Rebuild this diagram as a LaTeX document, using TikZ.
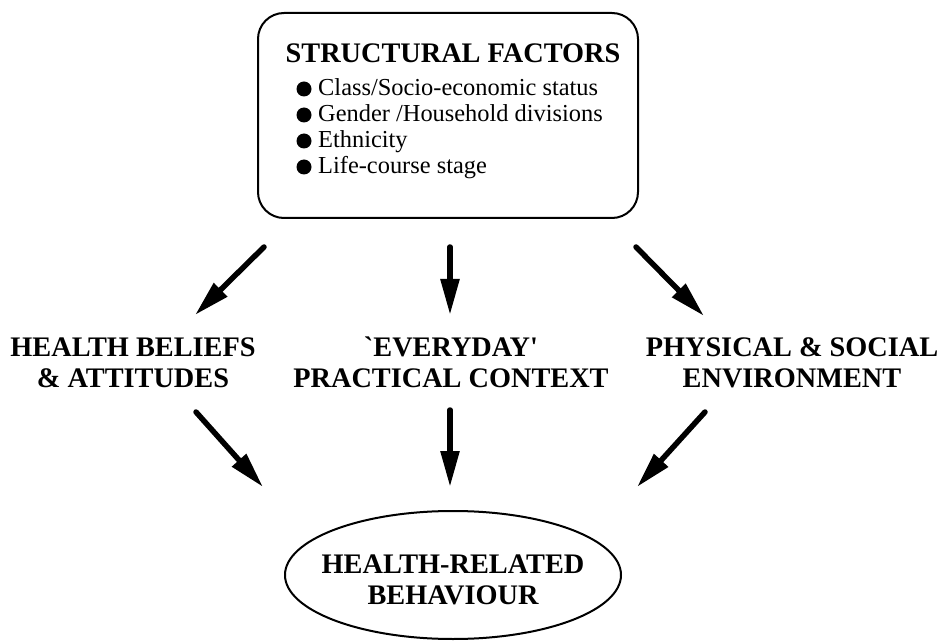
\documentclass[tikz,border=0pt]{standalone}
\usepackage{fontspec}
\setmainfont{Liberation Serif}
\newfontfamily\rawserif{Liberation Serif}[Ligatures=Common]
\usetikzlibrary{arrows.meta,shapes.geometric}

\begin{document}
\begin{tikzpicture}[x=1pt,y=-1pt,
  heading/.style={font=\fontsize{28.3}{31}\selectfont\bfseries, align=center, inner sep=0pt},
  itemtext/.style={font=\fontsize{24.4}{26}\selectfont, anchor=base west, inner sep=0pt},
  dot/.style={circle, fill=black, minimum size=15pt, inner sep=0pt},
  flow/.style={line width=5.5pt, line cap=round,
    -{Triangle[length=36pt,width=18pt]}},
]
\useasboundingbox (0,0) rectangle (940,644);

% structural factors box
\node[draw, line width=2pt, rounded corners=26pt, minimum width=380pt,
      minimum height=205pt, inner sep=0pt] (box) at (448,115.5) {};
\node[heading, anchor=base] (title) at (453,63) {STRUCTURAL FACTORS};
\foreach \i/\t/\y in {1/Class\slash Socio-economic status/96,
                      2/Gender \slash Household divisions/122,
                      3/Ethnicity/148,
                      4/Life-course stage/174}{
  \node[dot] (d\i) at (304,\y-7) {};
  \node[itemtext] (it\i) at (318,\y) {\t};
}

% middle row of factors (base = baseline of the second line)
\node[heading, anchor=base] (beliefs) at (133,387) {HEALTH BELIEFS\\\& ATTITUDES};
\node[heading, anchor=base] (everyday) at (451,387)
  {{\rawserif\bfseries\symbol{"60}}EVERYDAY{\rawserif\bfseries\symbol{"27}}\\PRACTICAL CONTEXT};
\node[heading, anchor=base] (environ) at (792,387) {PHYSICAL \& SOCIAL\\ENVIRONMENT};

% outcome
\node[draw, ellipse, line width=2pt, minimum width=336pt, minimum height=128pt,
      inner sep=0pt] (behav) at (453,575) {};
\node[heading, anchor=base] (behavtext) at (453,604) {HEALTH-RELATED\\BEHAVIOUR};

% arrow end points
\coordinate (s1) at (264,247);  \coordinate (e1) at (195,315);
\coordinate (s2) at (450,247);  \coordinate (e2) at (450,315);
\coordinate (s3) at (636,247);  \coordinate (e3) at (704,316);
\coordinate (s4) at (196,412);  \coordinate (e4) at (263,487);
\coordinate (s5) at (450,410);  \coordinate (e5) at (450,487);
\coordinate (s6) at (705,412);  \coordinate (e6) at (637,487);

\draw[flow] (s1) -- (e1);
\draw[flow] (s2) -- (e2);
\draw[flow] (s3) -- (e3);
\draw[flow] (s4) -- (e4);
\draw[flow] (s5) -- (e5);
\draw[flow] (s6) -- (e6);
\end{tikzpicture}
\end{document}
